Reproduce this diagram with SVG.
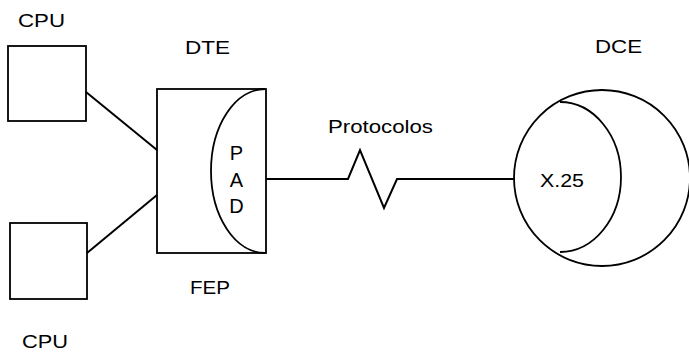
<svg xmlns="http://www.w3.org/2000/svg" width="689" height="353" viewBox="0 0 689 353">
<style>
.s{fill:none;stroke:#000;stroke-width:1.8}
.c{fill:none;stroke:#000;stroke-width:2}
text{font-family:"Liberation Sans",Arial,sans-serif;font-size:19px;fill:#000}
</style>
<rect width="689" height="353" fill="#fff"/>
<g id="cpu1">
<rect class="s" x="8" y="46" width="78" height="75"/>
<text x="18" y="27" textLength="47" lengthAdjust="spacingAndGlyphs">CPU</text>
</g>
<g id="cpu2">
<rect class="s" x="10" y="223" width="77" height="76"/>
<text x="22" y="348" textLength="46" lengthAdjust="spacingAndGlyphs">CPU</text>
</g>
<g id="fep">
<rect class="s" x="157" y="89" width="109" height="164"/>
<path class="s" d="M265 89 A54 82 0 0 0 265 253"/>
<text x="185" y="54" textLength="45" lengthAdjust="spacingAndGlyphs">DTE</text>
<text x="190" y="294" textLength="40" lengthAdjust="spacingAndGlyphs">FEP</text>
<text x="236.5" y="160" text-anchor="middle" style="font-size:20px">P</text>
<text x="236.5" y="187" text-anchor="middle" style="font-size:20px">A</text>
<text x="236.5" y="213" text-anchor="middle" style="font-size:20px">D</text>
</g>
<g id="dce">
<circle class="s" cx="602" cy="178" r="88"/>
<path class="s" d="M560 102 A61 75 0 0 1 560 252"/>
<text x="595" y="53" textLength="47" lengthAdjust="spacingAndGlyphs">DCE</text>
<text x="540" y="187" textLength="44" lengthAdjust="spacingAndGlyphs">X.25</text>
</g>
<g id="connectors">
<line class="c" x1="86" y1="92" x2="157" y2="150"/>
<line class="c" x1="87" y1="253" x2="157" y2="195"/>
<polyline class="c" points="266,179 348,179 360,150 384,208 397,179 515,179"/>
<text x="328" y="133" textLength="105" lengthAdjust="spacingAndGlyphs">Protocolos</text>
</g>
</svg>
